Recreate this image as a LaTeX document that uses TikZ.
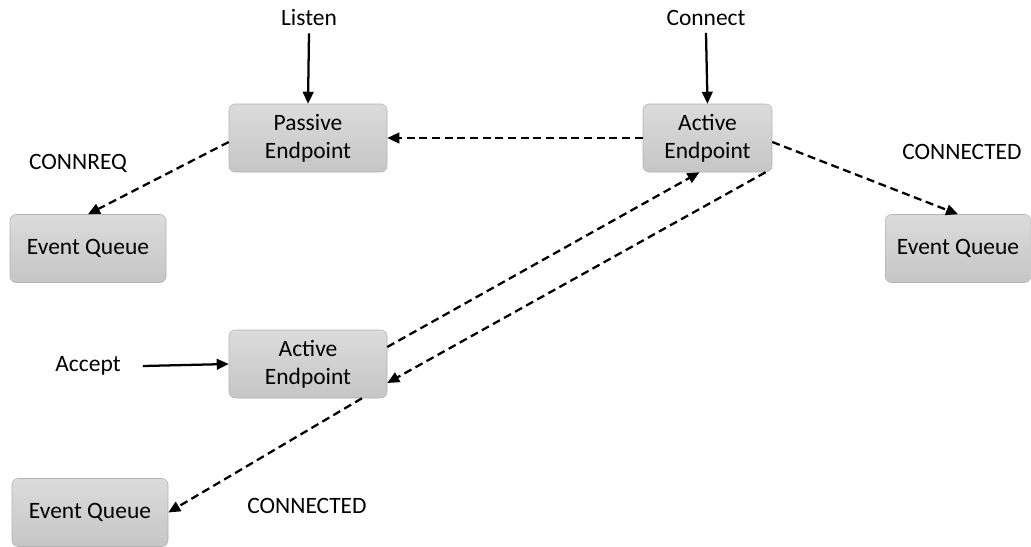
\documentclass[tikz,border=0pt]{standalone}
\usepackage{fontspec}
\setmainfont{Carlito}
\usetikzlibrary{arrows.meta,calc}
\begin{document}
\begin{tikzpicture}[x=0.75pt,y=-0.75pt,
  box/.style={draw=gray!60,rounded corners=4.5pt,top color=gray!28,bottom color=gray!45,
    minimum width=#1,minimum height=51pt,inner sep=0pt,align=center,
    font=\fontsize{17.6}{21}\selectfont},
  box/.default=118.5pt,
  lbl/.style={font=\fontsize{17.6}{21}\selectfont,inner sep=0pt},
  solidarr/.style={line width=1.7pt,-{Triangle[length=9pt,width=8pt]}},
  dasharr/.style={line width=1.7pt,dash pattern=on 6pt off 3.5pt,-{Triangle[length=9pt,width=8pt]}}]
\useasboundingbox (0,0) rectangle (1031,546);
% nodes
\node[box] (pe) at (308,138) {Passive\\Endpoint};
\node[box=96.75pt] (ae1) at (707.5,138) {Active\\Endpoint};
\node[box=117pt] (eq1) at (88,248.5) {Event Queue};
\node[box=109pt] (eq2) at (958,248.5) {Event Queue};
\node[box] (ab) at (308,364) {Active\\Endpoint};
\node[box=117pt] (eq3) at (90,512.5) {Event Queue};
% labels
\node[lbl] (listen) at (309,18) {Listen};
\node[lbl] (connect) at (706,18) {Connect};
\node[lbl] (accept) at (88,366) {Accept};
\node[lbl] (connreq) at (78,163) {CONNREQ};
\node[lbl] (conn1) at (962,152) {CONNECTED};
\node[lbl] (conn2) at (307,506) {CONNECTED};
% solid arrows
\draw[solidarr] ($(listen.south)+(0,7)$) -- (pe.north);
\draw[solidarr] ($(connect.south)+(0,7)$) -- (ae1.north);
\draw[solidarr] ($(accept.east)+(22,0)$) -- (ab.west);
% dashed arrows
\draw[dasharr] (ae1.west) -- (pe.east);
\draw[dasharr] ($(pe.west)+(0,4)$) -- (eq1.north);
\draw[dasharr] ($(ae1.east)+(0,4)$) -- (eq2.north);
\draw[dasharr] ($(ab.east)+(0,-17)$) -- ($(ae1.south)+(-8,0)$);
\draw[dasharr] ($(ae1.south)+(58,0)$) -- ($(ab.east)+(0,19)$);
\draw[dasharr] ($(ab.south)+(54,0)$) -- (eq3.east);
\end{tikzpicture}
\end{document}
